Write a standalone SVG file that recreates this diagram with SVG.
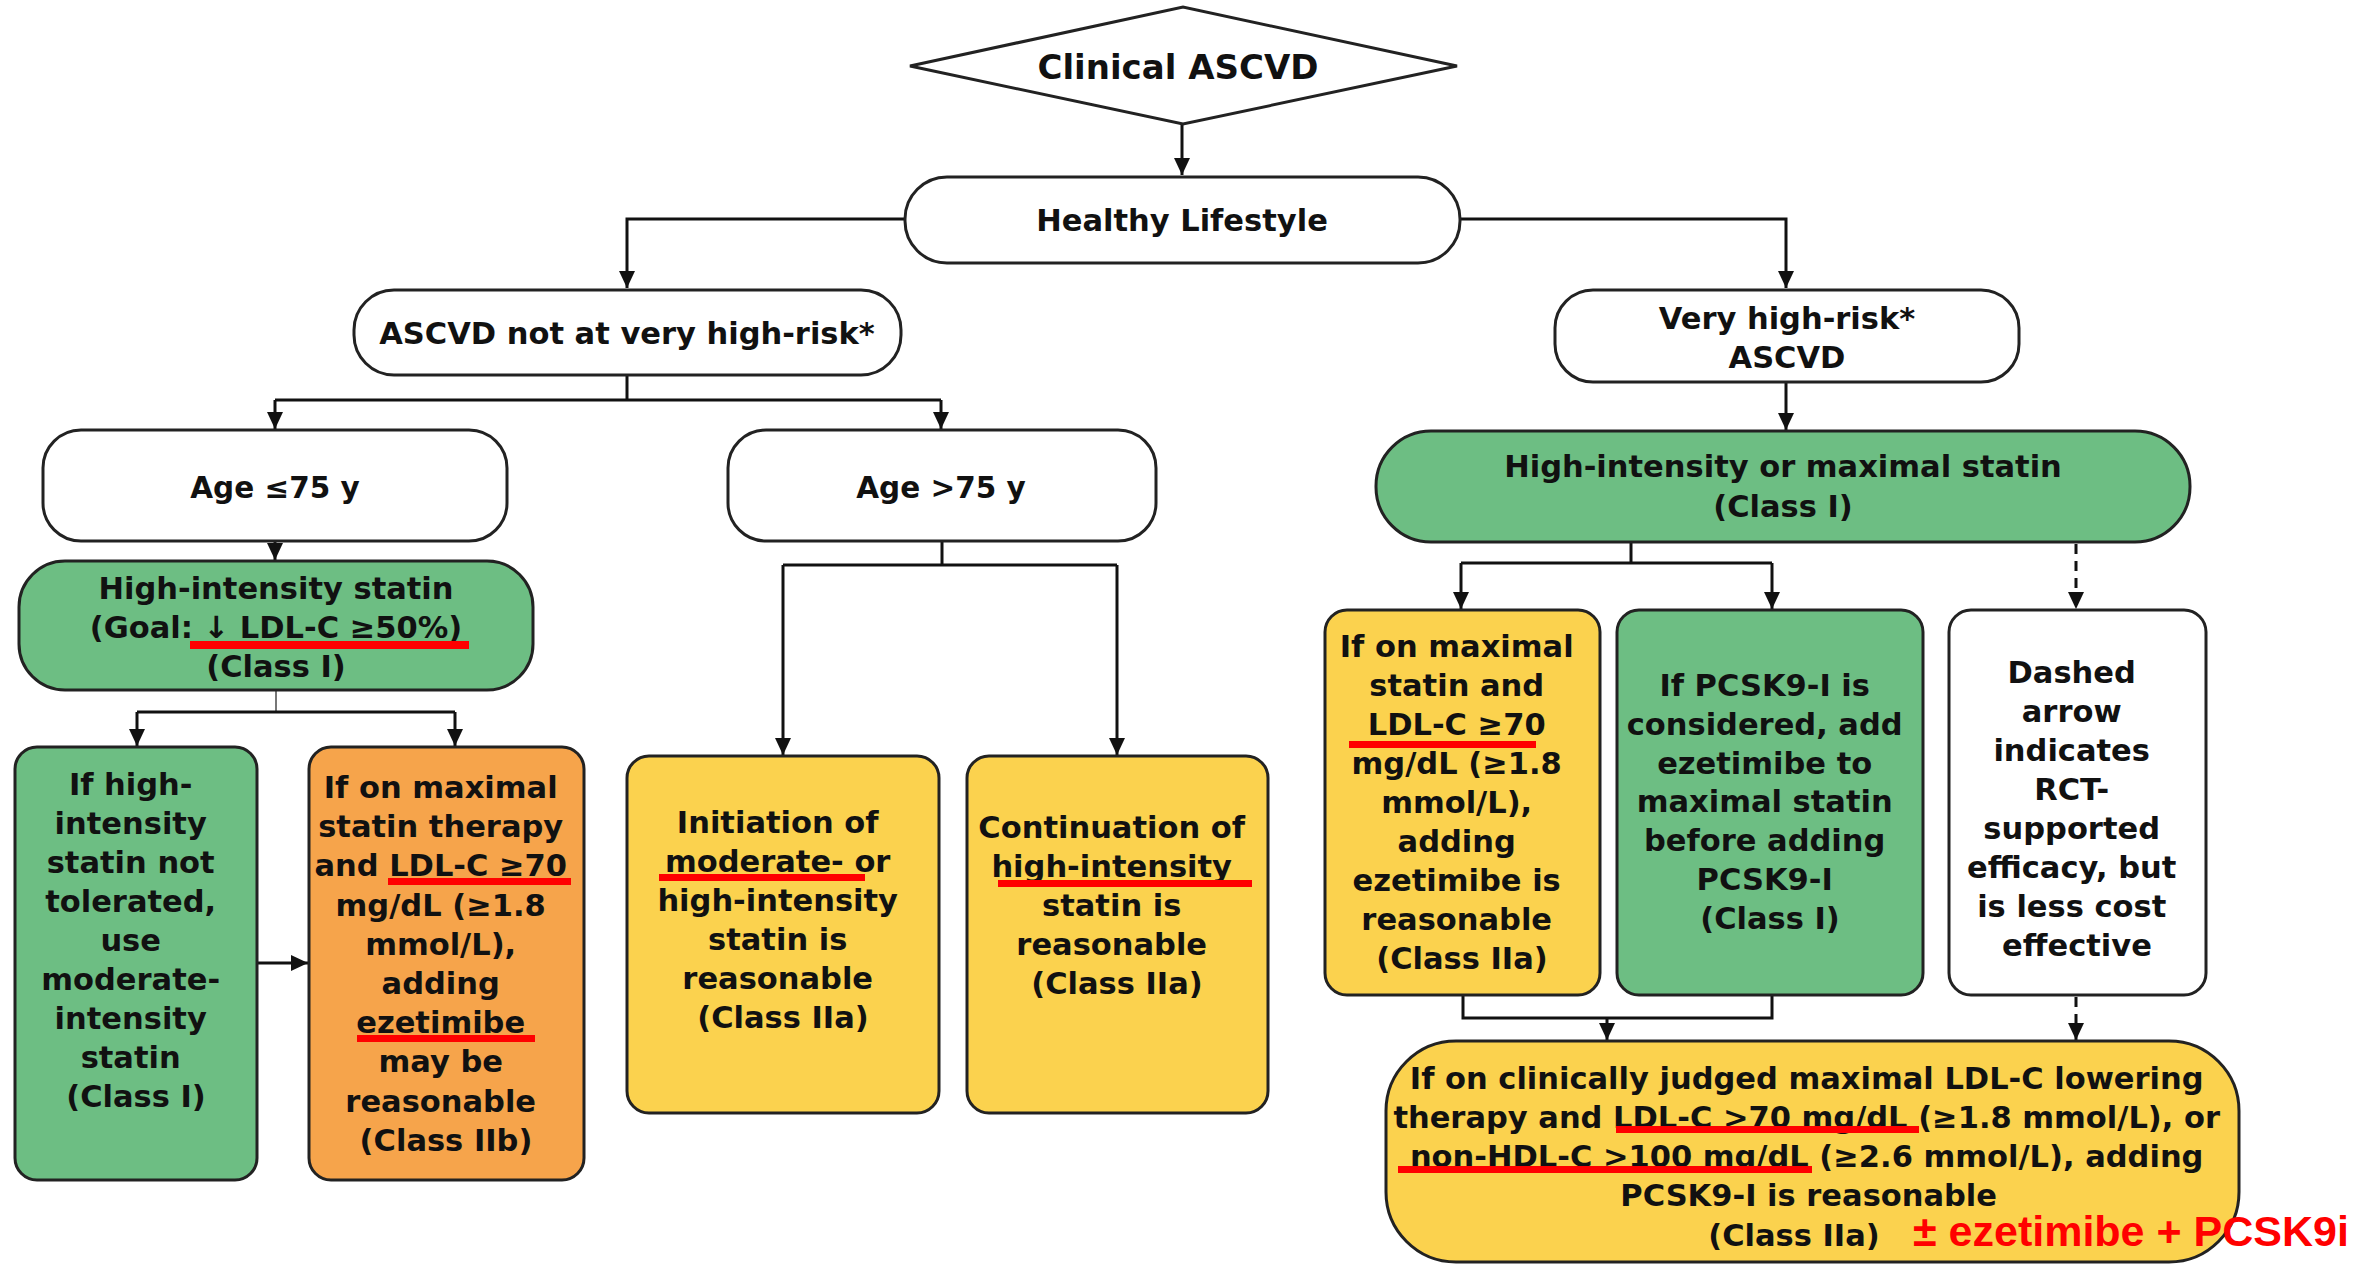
<svg xmlns="http://www.w3.org/2000/svg" width="2364" height="1266" viewBox="0 0 2364 1266">
<defs>
<style>
.t{font-family:"DejaVu Sans","Liberation Sans",sans-serif;font-weight:bold;font-size:30.5px;fill:#111;text-anchor:middle}
.box{stroke:#222;stroke-width:3}
.w{fill:#fff}
.g{fill:#6DBE83}
.o{fill:#F6A44B}
.y{fill:#FBD24E}
.c{fill:none;stroke:#111;stroke-width:3}
.d{fill:none;stroke:#111;stroke-width:3;stroke-dasharray:10 7}
.u{fill:#FF0000}
.red{font-family:"Liberation Sans",Arial,sans-serif;font-weight:bold;font-size:43px;fill:#FF0000}
</style>
<marker id="ah" markerUnits="userSpaceOnUse" markerWidth="18" markerHeight="16" refX="17" refY="8" orient="auto">
<path d="M0,0 L17,8 L0,16 z" fill="#111"/>
</marker>
</defs>
<rect width="2364" height="1266" fill="#fff"/>

<g id="connectors">
<path class="c" d="M1182,124 V175" marker-end="url(#ah)"/>
<path class="c" d="M905,219 H627 V288" marker-end="url(#ah)"/>
<path class="c" d="M1460,219 H1786 V288" marker-end="url(#ah)"/>
<path class="c" d="M627,375 V400"/>
<path class="c" d="M275,400 H941"/>
<path class="c" d="M275,400 V429" marker-end="url(#ah)"/>
<path class="c" d="M941,400 V429" marker-end="url(#ah)"/>
<path class="c" d="M275,541 V560" marker-end="url(#ah)"/>
<path fill="none" stroke="#777" stroke-width="2" d="M276,690 V712"/>
<path class="c" d="M137,712 H455"/>
<path class="c" d="M137,712 V746" marker-end="url(#ah)"/>
<path class="c" d="M455,712 V746" marker-end="url(#ah)"/>
<path class="c" d="M257,963 H308" marker-end="url(#ah)"/>
<path class="c" d="M942,541 V565"/>
<path class="c" d="M783,565 H1117"/>
<path class="c" d="M783,565 V755" marker-end="url(#ah)"/>
<path class="c" d="M1117,565 V755" marker-end="url(#ah)"/>
<path class="c" d="M1786,382 V430" marker-end="url(#ah)"/>
<path class="c" d="M1631,542 V563"/>
<path class="c" d="M1461,563 H1772"/>
<path class="c" d="M1461,563 V609" marker-end="url(#ah)"/>
<path class="c" d="M1772,563 V609" marker-end="url(#ah)"/>
<path class="d" d="M2076,544 V609" marker-end="url(#ah)"/>
<path class="c" d="M1463,995 V1018 H1772 V995"/>
<path class="c" d="M1607,1018 V1040" marker-end="url(#ah)"/>
<path class="d" d="M2076,997 V1040" marker-end="url(#ah)"/>
</g>

<g id="n-clinical-ascvd">
<polygon class="box w" stroke-width="2.5" points="910,66 1183,7 1457,66 1183,124"/>
<text class="t" x="1178" y="79" style="font-size:34px">Clinical ASCVD</text>
</g>

<g id="n-healthy-lifestyle">
<rect class="box w" x="905" y="177" width="555" height="86" rx="42"/>
<text class="t" x="1182" y="231">Healthy Lifestyle</text>
</g>

<g id="n-not-very-high-risk">
<rect class="box w" x="354" y="290" width="547" height="85" rx="40"/>
<text class="t" x="627" y="344">ASCVD not at very high-risk*</text>
</g>

<g id="n-very-high-risk">
<rect class="box w" x="1555" y="290" width="464" height="92" rx="38"/>
<text class="t" x="1787" y="329">Very high-risk*</text>
<text class="t" x="1787" y="368">ASCVD</text>
</g>

<g id="n-age-le75">
<rect class="box w" x="43" y="430" width="464" height="111" rx="38"/>
<text class="t" x="275" y="498" style="font-size:29.5px">Age ≤75 y</text>
</g>

<g id="n-age-gt75">
<rect class="box w" x="728" y="430" width="428" height="111" rx="38"/>
<text class="t" x="941" y="498" style="font-size:29.5px">Age &gt;75 y</text>
</g>

<g id="n-high-intensity-statin">
<rect class="box g" x="19" y="561" width="514" height="129" rx="46"/>
<text class="t" x="276" y="599">High-intensity statin</text>
<text class="t" x="276" y="638">(Goal: ↓ LDL-C ≥50%)</text>
<text class="t" x="276" y="677">(Class I)</text>
<rect class="u" x="190" y="641" width="279" height="8"/>
</g>

<g id="n-not-tolerated">
<rect class="box g" x="15" y="747" width="242" height="433" rx="22"/>
<text class="t">
<tspan x="136" y="795">If high-</tspan>
<tspan x="136" y="834">intensity</tspan>
<tspan x="136" y="873">statin not</tspan>
<tspan x="136" y="912">tolerated,</tspan>
<tspan x="136" y="951">use</tspan>
<tspan x="136" y="990">moderate-</tspan>
<tspan x="136" y="1029">intensity</tspan>
<tspan x="136" y="1068">statin</tspan>
<tspan x="136" y="1107">(Class I)</tspan>
</text>
</g>

<g id="n-ezetimibe-iib">
<rect class="box o" x="309" y="747" width="275" height="433" rx="22"/>
<text class="t">
<tspan x="446" y="798">If on maximal</tspan>
<tspan x="446" y="837">statin therapy</tspan>
<tspan x="446" y="876">and LDL-C ≥70</tspan>
<tspan x="446" y="916">mg/dL (≥1.8</tspan>
<tspan x="446" y="955">mmol/L),</tspan>
<tspan x="446" y="994">adding</tspan>
<tspan x="446" y="1033">ezetimibe</tspan>
<tspan x="446" y="1072">may be</tspan>
<tspan x="446" y="1112">reasonable</tspan>
<tspan x="446" y="1151">(Class IIb)</tspan>
</text>
<rect class="u" x="388" y="878" width="183" height="7"/>
<rect class="u" x="357" y="1035" width="178" height="7"/>
</g>

<g id="n-initiation">
<rect class="box y" x="627" y="756" width="312" height="357" rx="22"/>
<text class="t">
<tspan x="783" y="833">Initiation of</tspan>
<tspan x="783" y="872">moderate- or</tspan>
<tspan x="783" y="911">high-intensity</tspan>
<tspan x="783" y="950">statin is</tspan>
<tspan x="783" y="989">reasonable</tspan>
<tspan x="783" y="1028">(Class IIa)</tspan>
</text>
<rect class="u" x="659" y="874" width="206" height="7"/>
</g>

<g id="n-continuation">
<rect class="box y" x="967" y="756" width="301" height="357" rx="22"/>
<text class="t">
<tspan x="1117" y="838">Continuation of</tspan>
<tspan x="1117" y="877">high-intensity</tspan>
<tspan x="1117" y="916">statin is</tspan>
<tspan x="1117" y="955">reasonable</tspan>
<tspan x="1117" y="994">(Class IIa)</tspan>
</text>
<rect class="u" x="998" y="880" width="254" height="7"/>
</g>

<g id="n-max-statin">
<rect class="box g" x="1376" y="431" width="814" height="111" rx="55"/>
<text class="t" x="1783" y="477">High-intensity or maximal statin</text>
<text class="t" x="1783" y="517">(Class I)</text>
</g>

<g id="n-ezetimibe-iia">
<rect class="box y" x="1325" y="610" width="275" height="385" rx="22"/>
<text class="t">
<tspan x="1462" y="657">If on maximal</tspan>
<tspan x="1462" y="696">statin and</tspan>
<tspan x="1462" y="735">LDL-C ≥70</tspan>
<tspan x="1462" y="774">mg/dL (≥1.8</tspan>
<tspan x="1462" y="813">mmol/L),</tspan>
<tspan x="1462" y="852">adding</tspan>
<tspan x="1462" y="891">ezetimibe is</tspan>
<tspan x="1462" y="930">reasonable</tspan>
<tspan x="1462" y="969">(Class IIa)</tspan>
</text>
<rect class="u" x="1349" y="741" width="187" height="7"/>
</g>

<g id="n-pcsk9-considered">
<rect class="box g" x="1617" y="610" width="306" height="385" rx="22"/>
<text class="t">
<tspan x="1770" y="696">If PCSK9-I is</tspan>
<tspan x="1770" y="735">considered, add</tspan>
<tspan x="1770" y="774">ezetimibe to</tspan>
<tspan x="1770" y="812">maximal statin</tspan>
<tspan x="1770" y="851">before adding</tspan>
<tspan x="1770" y="890">PCSK9-I</tspan>
<tspan x="1770" y="929">(Class I)</tspan>
</text>
</g>

<g id="n-dashed-note">
<rect class="box w" x="1949" y="610" width="257" height="385" rx="22"/>
<text class="t">
<tspan x="2077" y="683">Dashed</tspan>
<tspan x="2077" y="722">arrow</tspan>
<tspan x="2077" y="761">indicates</tspan>
<tspan x="2077" y="800">RCT-</tspan>
<tspan x="2077" y="839">supported</tspan>
<tspan x="2077" y="878">efficacy, but</tspan>
<tspan x="2077" y="917">is less cost</tspan>
<tspan x="2077" y="956">effective</tspan>
</text>
</g>

<g id="n-pcsk9-iia">
<rect class="box y" x="1386" y="1041" width="853" height="221" rx="70"/>
<text class="t">
<tspan x="1812" y="1089">If on clinically judged maximal LDL-C lowering</tspan>
<tspan x="1812" y="1128">therapy and LDL-C &gt;70 mg/dL (≥1.8 mmol/L), or</tspan>
<tspan x="1812" y="1167">non-HDL-C &gt;100 mg/dL (≥2.6 mmol/L), adding</tspan>
<tspan x="1814" y="1206">PCSK9-I is reasonable</tspan>
<tspan x="1794" y="1246">(Class IIa)</tspan>
</text>
<rect class="u" x="1616" y="1126" width="303" height="7"/>
<rect class="u" x="1398" y="1166" width="414" height="7"/>
<text class="red" x="1913" y="1246">± ezetimibe + PCSK9i</text>
</g>
</svg>
